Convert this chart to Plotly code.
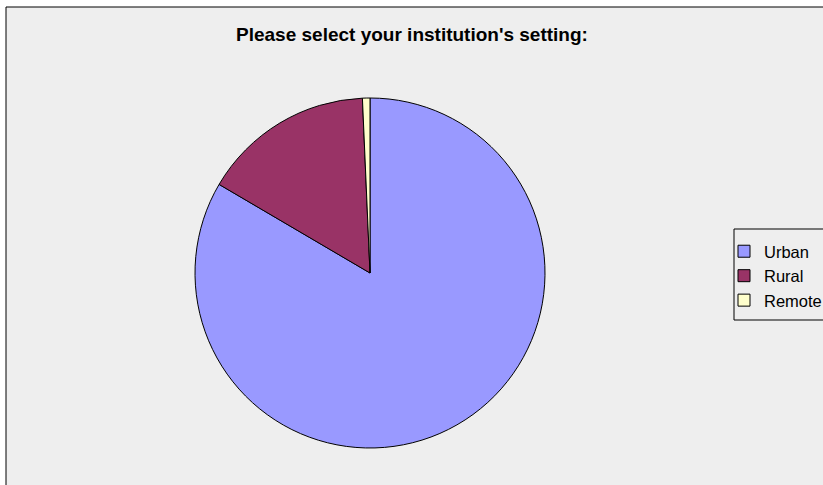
import plotly.graph_objects as go

W, H = 823, 485
labels = ["Urban", "Rural", "Remote"]
values = [121, 23, 1]
colors = ["#9999FF", "#993366", "#FFFFCC"]
title_text = "<b>Please select your institution's setting:</b>"

fig = go.Figure()
fig.add_trace(go.Pie(
    labels=labels, values=values, sort=False, direction="clockwise", rotation=0,
    marker=dict(colors=colors, line=dict(color="black", width=1)),
    textinfo="none", hoverinfo="label+percent",
    domain=dict(x=[195 / W, 545 / W], y=[1 - 448 / H, 1 - 98 / H]),
))

# chart frame
fig.add_shape(type="rect", xref="paper", yref="paper",
              x0=6 / W, x1=1.01, y0=-0.01, y1=1 - 7 / H,
              fillcolor="#EEEEEE", line=dict(color="black", width=1), layer="below")
# legend box
fig.add_shape(type="rect", xref="paper", yref="paper",
              x0=734 / W, x1=1.01, y0=1 - 320 / H, y1=1 - 229 / H,
              fillcolor="#EEEEEE", line=dict(color="black", width=1), layer="below")

fig.add_annotation(text=title_text, xref="paper", yref="paper",
                   x=412 / W, y=1 - 35 / H, xanchor="center", yanchor="middle",
                   showarrow=False, font=dict(family="Liberation Sans", size=19, color="black"))

fig.update_layout(
    width=W, height=H, margin=dict(l=0, r=0, t=0, b=0, autoexpand=False),
    paper_bgcolor="white", plot_bgcolor="white",
    font=dict(family="Liberation Sans", size=16.5, color="black"),
    showlegend=True,
    legend=dict(x=724 / W, y=1 - 234 / H, xanchor="left", yanchor="top",
                bgcolor="rgba(0,0,0,0)", borderwidth=0,
                font=dict(size=16.5), itemwidth=30),
)

fig.write_html("out.html", config={"displayModeBar": False},
               post_script="document.body.style.margin='0';document.body.style.overflow='hidden';")
